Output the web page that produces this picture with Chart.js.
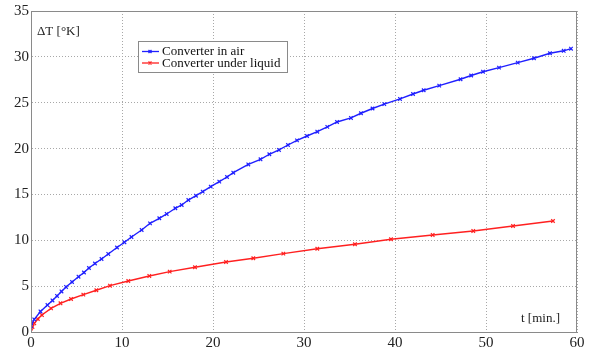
<!DOCTYPE html>
<html><head><meta charset="utf-8">
<script src="https://cdn.jsdelivr.net/npm/chart.js@4/dist/chart.umd.min.js"></script>
<style>html,body{margin:0;padding:0;background:#fff}#wrap{width:591px;height:349px}</style>
</head><body><div id="wrap"><canvas id="c" width="591" height="349"></canvas></div>
<script>
const seriesNames = ["Converter in air", "Converter under liquid"];
const airT = [0,0.36,1.04,1.81,2.36,2.86,3.35,3.85,4.51,5.22,5.82,6.37,7.03,7.75,8.49,9.45,10.27,11.04,12.16,13.08,14.1,14.91,15.86,16.56,17.29,18.13,18.87,19.75,20.69,21.54,22.23,23.88,25.22,26.19,27.25,28.24,29.23,30.33,31.46,32.56,33.63,35.16,36.26,37.53,38.82,40.55,41.98,43.15,44.86,47.2,48.37,49.67,51.43,53.49,55.27,57.03,58.54,59.34];
const airDT = [0.65,1.38,2.24,2.94,3.44,3.93,4.42,4.91,5.45,6.03,6.49,6.98,7.47,7.96,8.51,9.21,9.78,10.36,11.12,11.85,12.4,12.87,13.49,13.85,14.39,14.86,15.3,15.85,16.39,16.9,17.37,18.27,18.83,19.38,19.85,20.39,20.9,21.37,21.84,22.36,22.9,23.34,23.85,24.37,24.84,25.41,25.95,26.36,26.86,27.56,27.97,28.38,28.82,29.37,29.85,30.39,30.66,30.89];
const liqT = [0,0.16,0.36,0.75,1.2,2.2,3.24,4.4,5.75,7.18,8.68,10.69,13.0,15.24,18.02,21.43,24.43,27.73,31.46,35.6,39.56,44.14,48.6,52.97,57.36];
const liqDT = [0.1,0.55,0.95,1.42,1.85,2.58,3.13,3.6,4.07,4.55,5.05,5.56,6.11,6.58,7.06,7.63,8.04,8.54,9.08,9.57,10.11,10.58,11.01,11.56,12.1];
const xTicks = [0,10,20,30,40,50,60];
const yTicks = [0,5,10,15,20,25,30,35];
const yTitle = "ΔT [°K]";
const xTitle = "t [min.]";
const colors = ["#2020ff", "#ff2020"];

const toPts = (xs, ys) => xs.map((x, i) => ({x: x, y: ys[i]}));
const FONT = "'Liberation Serif', 'Times New Roman', serif";

const overlay = {
  id: 'overlay',
  afterDraw(chart) {
    const {ctx, chartArea: a} = chart;
    ctx.save();
    // frame
    ctx.strokeStyle = '#8a8a8a';
    ctx.lineWidth = 1;
    ctx.strokeRect(a.left + 0.5, a.top + 0.5, a.right - a.left - 1, a.bottom - a.top);
    // axis titles
    ctx.fillStyle = '#222';
    ctx.font = '13px ' + FONT;
    ctx.textBaseline = 'middle';
    ctx.textAlign = 'left';
    ctx.fillText(yTitle, a.left + 6, a.top + 21);
    ctx.textAlign = 'right';
    ctx.fillText(xTitle, a.right - 17, a.bottom - 13);
    // legend
    const lx = 138, ly = 41, lw = 149, lh = 31;
    ctx.fillStyle = '#fff';
    ctx.fillRect(lx, ly, lw, lh);
    ctx.strokeStyle = '#8a8a8a';
    ctx.strokeRect(lx + 0.5, ly + 0.5, lw, lh);
    ctx.font = '13px ' + FONT;
    ctx.textAlign = 'left';
    chart.data.datasets.forEach((ds, i) => {
      const cy = ly + 10.5 + i * 11.5;
      ctx.strokeStyle = ds.borderColor;
      ctx.lineWidth = 1.3;
      ctx.beginPath(); ctx.moveTo(lx + 4, cy); ctx.lineTo(lx + 21, cy); ctx.stroke();
      ctx.beginPath();
      ctx.moveTo(lx + 10.5, cy - 1.5); ctx.lineTo(lx + 13.5, cy + 1.5);
      ctx.moveTo(lx + 10.5, cy + 1.5); ctx.lineTo(lx + 13.5, cy - 1.5);
      ctx.stroke();
      ctx.fillStyle = '#111';
      ctx.fillText(ds.label, lx + 24, cy + 0.5);
    });
    ctx.restore();
  }
};

new Chart(document.getElementById('c'), {
  type: 'scatter',
  data: {
    datasets: [
      {label: seriesNames[0], data: toPts(airT, airDT), showLine: true, borderColor: colors[0], backgroundColor: colors[0], borderWidth: 1.4, pointStyle: 'crossRot', pointRadius: 2.5, pointBorderWidth: 1.2, tension: 0},
      {label: seriesNames[1], data: toPts(liqT, liqDT), showLine: true, borderColor: colors[1], backgroundColor: colors[1], borderWidth: 1.4, pointStyle: 'crossRot', pointRadius: 2.5, pointBorderWidth: 1.2, tension: 0}
    ]
  },
  options: {
    responsive: false,
    animation: false,
    devicePixelRatio: 1,
    layout: {padding: {top: 11, right: 14, left: 0, bottom: 0}},
    plugins: {legend: {display: false}, tooltip: {enabled: false}},
    scales: {
      x: {
        type: 'linear', min: 0, max: 60,
        afterBuildTicks: s => { s.ticks = xTicks.map(v => ({value: v})); },
        afterFit: s => { s.height = 17; },
        grid: {color: '#a8a8a8', borderDash: [1, 2], drawTicks: false, lineWidth: 1},
        border: {display: true, color: '#8a8a8a', dash: [1,2]},
        ticks: {color: '#222', font: {family: FONT, size: 15}, padding: 2, maxRotation: 0}
      },
      y: {
        type: 'linear', min: 0, max: 35,
        afterBuildTicks: s => { s.ticks = yTicks.map(v => ({value: v})); },
        afterFit: s => { s.width = 31; },
        grid: {color: '#a8a8a8', borderDash: [1, 2], drawTicks: false, lineWidth: 1},
        border: {display: true, color: '#8a8a8a', dash: [1,2]},
        ticks: {color: '#222', font: {family: FONT, size: 15}, padding: 2}
      }
    }
  },
  plugins: [overlay]
});
</script></body></html>
